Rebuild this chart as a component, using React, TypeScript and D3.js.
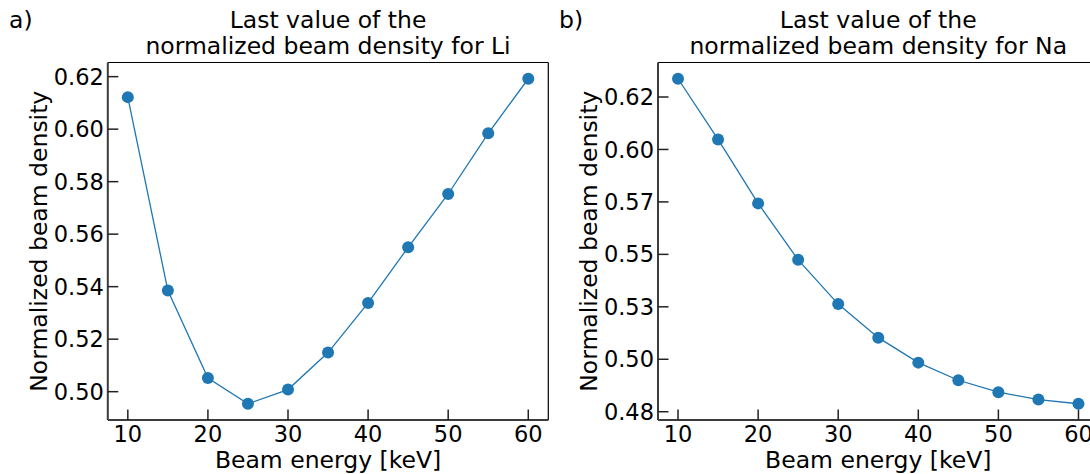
import React from "react";
import * as d3 from "d3";

const energies = [10, 15, 20, 25, 30, 35, 40, 45, 50, 55, 60];
const liDensity = [0.6122, 0.5385, 0.5052, 0.4954, 0.5008, 0.5149, 0.5338, 0.555, 0.5753, 0.5984, 0.6192];
const naDensity = [0.6337, 0.6048, 0.5743, 0.5474, 0.5263, 0.5103, 0.4984, 0.49, 0.4843, 0.4808, 0.4788];

const xTicks = [10, 20, 30, 40, 50, 60];
const liYTicks = [0.5, 0.52, 0.54, 0.56, 0.58, 0.6, 0.62];
const liYLabels = ["0.50", "0.52", "0.54", "0.56", "0.58", "0.60", "0.62"];
const naYTicks = [0.475, 0.5, 0.525, 0.55, 0.575, 0.6, 0.625];
const naYLabels = ["0.48", "0.50", "0.53", "0.55", "0.57", "0.60", "0.62"];

const liTitle = ["Last value of the", "normalized beam density for Li"];
const naTitle = ["Last value of the", "normalized beam density for Na"];
const xLabel = "Beam energy [keV]";
const yLabel = "Normalized beam density";

const FONT = "DejaVu Sans, sans-serif";
const FS = 23.5;
const TICK_FS = 22.5;
const BLUE = "#1f77b4";

const W = 440.5;
const TOP = 62.5;
const BOTTOM = 420;

function withMargin(vals: number[]): [number, number] {
  const mn = d3.min(vals) as number;
  const mx = d3.max(vals) as number;
  const r = mx - mn;
  return [mn - 0.05 * r, mx + 0.05 * r];
}

type PanelProps = {
  x0: number;
  tag: string;
  tagX: number;
  title: string[];
  values: number[];
  yTicks: number[];
  yLabels: string[];
  yLabelX: number;
};

function Panel({ x0, tag, tagX, title, values, yTicks, yLabels, yLabelX }: PanelProps) {
  const xExt = withMargin(energies);
  const x = d3.scaleLinear().domain(xExt).range([x0, x0 + W]);
  const y = d3.scaleLinear().domain(withMargin(values)).range([BOTTOM, TOP]);
  const line = d3
    .line<number>()
    .x((_, i) => x(energies[i]))
    .y((v) => y(v));
  const cx = x0 + W / 2;
  const cy = (TOP + BOTTOM) / 2;
  return (
    <g fontFamily={FONT} fontSize={FS} fill="#000">
      <text x={tagX} y={28}>{tag}</text>
      <text x={cx} y={28} textAnchor="middle">{title[0]}</text>
      <text x={cx} y={53.5} textAnchor="middle">{title[1]}</text>
      {/* spines */}
      <line x1={x0} x2={x0 + W} y1={TOP} y2={TOP} stroke="#000" strokeWidth={1.2} />
      <line x1={x0 + W} x2={x0 + W} y1={TOP} y2={BOTTOM} stroke="#000" strokeWidth={1.2} />
      <line x1={x0} x2={x0} y1={TOP} y2={BOTTOM} stroke="#3c3c3c" strokeWidth={2} />
      <line x1={x0} x2={x0 + W} y1={BOTTOM} y2={BOTTOM} stroke="#3c3c3c" strokeWidth={2} />
      {/* x ticks */}
      {xTicks.map((t) => (
        <g key={"x" + t}>
          <line x1={x(t)} x2={x(t)} y1={BOTTOM} y2={BOTTOM - 10.5} stroke="#222" strokeWidth={1.5} />
          <text x={x(t)} y={441.5} textAnchor="middle" fontSize={TICK_FS}>{t}</text>
        </g>
      ))}
      {/* y ticks */}
      {yTicks.map((t, i) => (
        <g key={"y" + t}>
          <line x1={x0} x2={x0 + 10.5} y1={y(t)} y2={y(t)} stroke="#222" strokeWidth={1.5} />
          <text x={x0 - 4} y={y(t)} dy="0.36em" textAnchor="end" fontSize={TICK_FS}>{yLabels[i]}</text>
        </g>
      ))}
      <text x={cx} y={468} textAnchor="middle">{xLabel}</text>
      <text
        transform={`translate(${yLabelX},${cy}) rotate(-90)`}
        textAnchor="middle"
      >
        {yLabel}
      </text>
      <path d={line(values) || ""} fill="none" stroke={BLUE} strokeWidth={1.3} />
      {values.map((v, i) => (
        <circle key={"p" + i} cx={x(energies[i])} cy={y(v)} r={6} fill={BLUE} />
      ))}
    </g>
  );
}

export default function App() {
  return (
    <svg
      width={1090}
      height={474}
      style={{ position: "absolute", left: 0, top: 0, background: "#fff" }}
    >
      <rect width={1090} height={474} fill="#fff" />
      <Panel
        x0={107.8}
        tag="a)"
        tagX={9}
        title={liTitle}
        values={liDensity}
        yTicks={liYTicks}
        yLabels={liYLabels}
        yLabelX={47}
      />
      <Panel
        x0={658}
        tag="b)"
        tagX={559}
        title={naTitle}
        values={naDensity}
        yTicks={naYTicks}
        yLabels={naYLabels}
        yLabelX={597}
      />
    </svg>
  );
}
